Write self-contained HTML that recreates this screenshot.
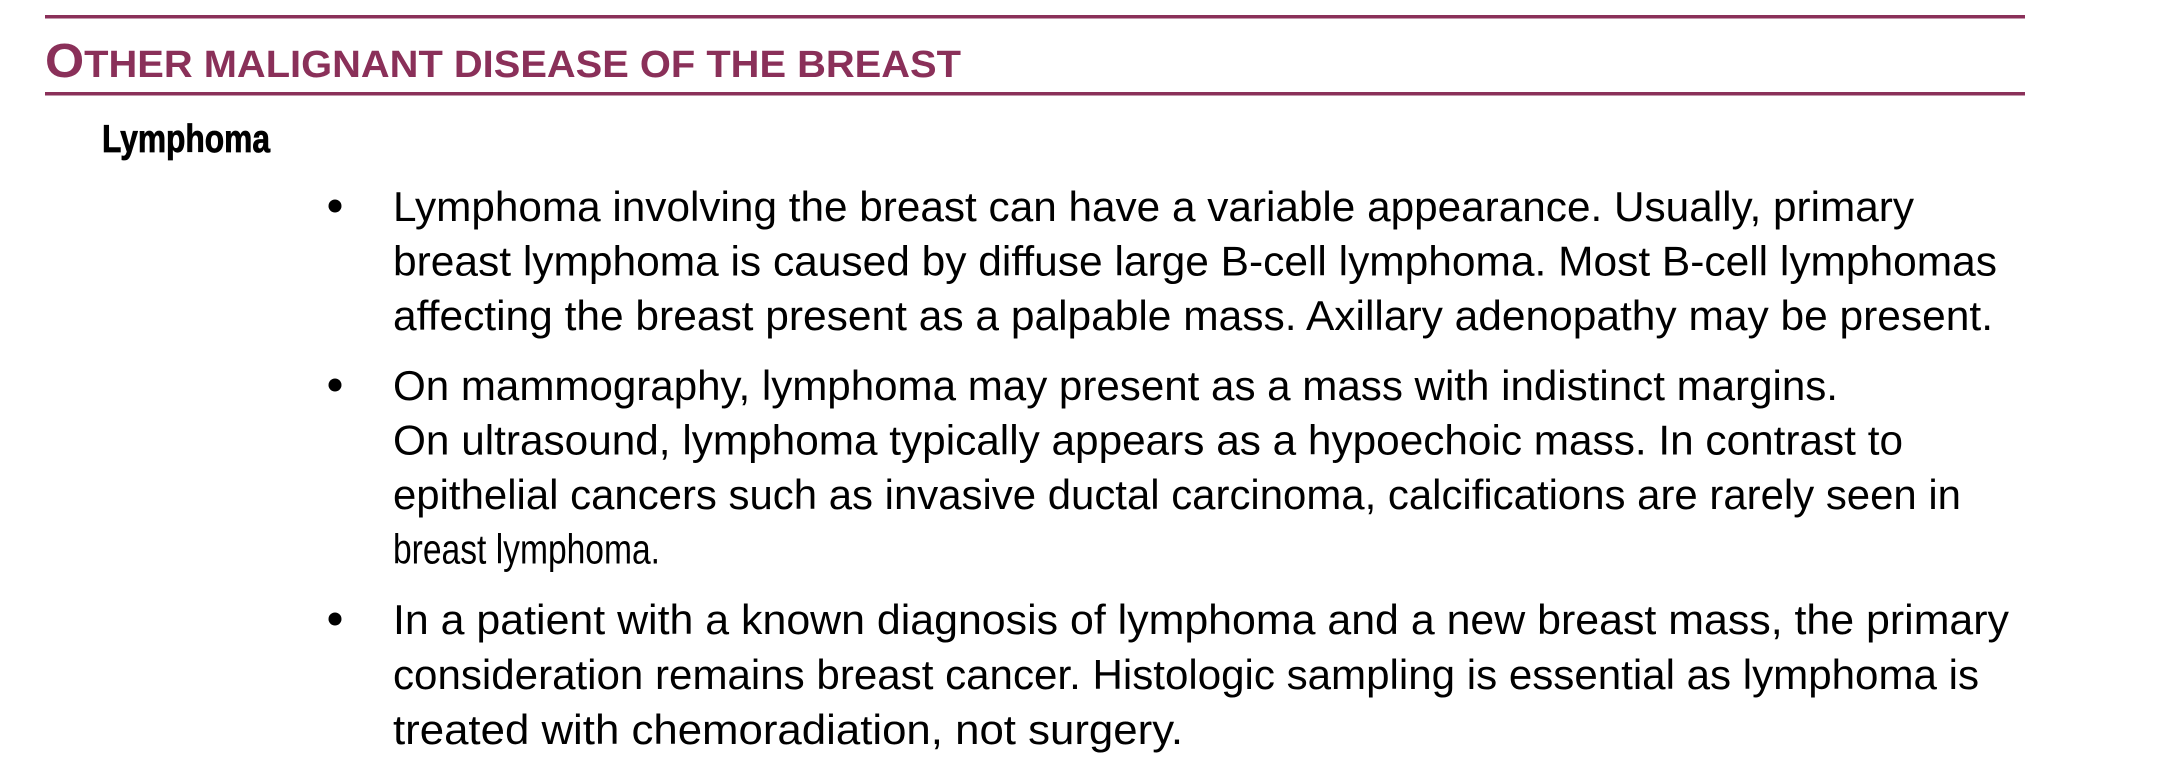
<!DOCTYPE html>
<html><head><meta charset="utf-8"><style>
html,body{margin:0;padding:0;background:#fff;width:2162px;height:774px;overflow:hidden}
svg{display:block}
.b{font-family:"Liberation Sans",sans-serif;font-size:42px;fill:#000}
</style></head><body>
<svg width="2162" height="774" viewBox="0 0 2162 774">
<rect x="45" y="15" width="1980" height="3.5" fill="#8a3059"/>
<text x="45" y="77" font-family="Liberation Sans, sans-serif" font-weight="bold" fill="#8a3059" textLength="916" lengthAdjust="spacingAndGlyphs"><tspan font-size="48">O</tspan><tspan font-size="38">THER MALIGNANT DISEASE OF THE BREAST</tspan></text>
<rect x="45" y="92" width="1980" height="3.5" fill="#8a3059"/>
<text x="102" y="152" font-family="Liberation Sans, sans-serif" font-weight="bold" font-size="39" fill="#000" textLength="168" lengthAdjust="spacingAndGlyphs" stroke="#000" stroke-width="0.8">Lymphoma</text>

<g>
<circle cx="335" cy="206" r="6.5" fill="#000"/>
<text class="b" x="393" y="221" textLength="1521" lengthAdjust="spacingAndGlyphs">Lymphoma involving the breast can have a variable appearance. Usually, primary</text>
<text class="b" x="393" y="275.5" textLength="1604" lengthAdjust="spacingAndGlyphs">breast lymphoma is caused by diffuse large B-cell lymphoma. Most B-cell lymphomas</text>
<text class="b" x="393" y="330" textLength="1600" lengthAdjust="spacingAndGlyphs">affecting the breast present as a palpable mass. Axillary adenopathy may be present.</text>
</g>
<g>
<circle cx="335" cy="385" r="6.5" fill="#000"/>
<text class="b" x="393" y="400" textLength="1445" lengthAdjust="spacingAndGlyphs">On mammography, lymphoma may present as a mass with indistinct margins.</text>
<text class="b" x="393" y="454.5" textLength="1510" lengthAdjust="spacingAndGlyphs">On ultrasound, lymphoma typically appears as a hypoechoic mass. In contrast to</text>
<text class="b" x="393" y="509" textLength="1568" lengthAdjust="spacingAndGlyphs">epithelial cancers such as invasive ductal carcinoma, calcifications are rarely seen in</text>
<text class="b" x="393" y="563.5" textLength="267" lengthAdjust="spacingAndGlyphs">breast lymphoma.</text>
</g>
<g>
<circle cx="335" cy="619" r="6.5" fill="#000"/>
<text class="b" x="393" y="634" textLength="1616" lengthAdjust="spacingAndGlyphs">In a patient with a known diagnosis of lymphoma and a new breast mass, the primary</text>
<text class="b" x="393" y="689" textLength="1586" lengthAdjust="spacingAndGlyphs">consideration remains breast cancer. Histologic sampling is essential as lymphoma is</text>
<text class="b" x="393" y="744" textLength="790" lengthAdjust="spacingAndGlyphs">treated with chemoradiation, not surgery.</text>
</g>
</svg>
</body></html>
